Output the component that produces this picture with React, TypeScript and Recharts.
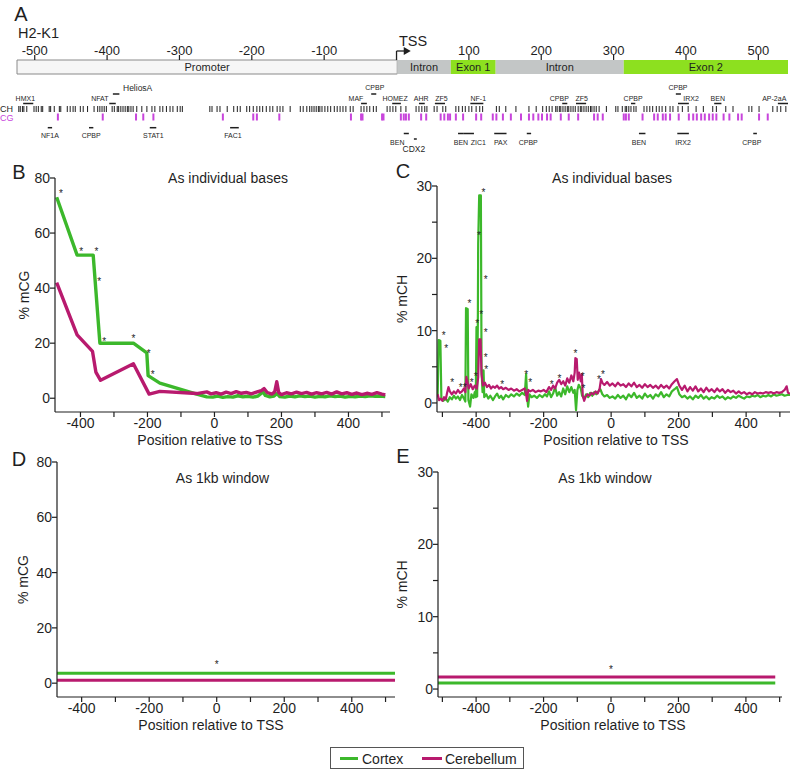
import React from 'react';
import {
  ComposedChart,
  ScatterChart,
  Scatter,
  Line,
  XAxis,
  YAxis,
  ReferenceArea,
  ReferenceLine,
  ReferenceDot,
} from 'recharts';

const FONT = '"Liberation Sans", Arial, Helvetica, sans-serif';
const INK = '#1f1f1f';
const GREEN = '#3cb82b';
const MAGENTA = '#b81a6e';
const CG_PINK = '#c845dc';

// ---------------- Panel A data ----------------
const geneAxisTicks = [-500, -400, -300, -200, -100, 100, 200, 300, 400, 500];
const geneRegions = [
  { name: 'Promoter', start: -524.5, end: 1, kind: 'promoter' },
  { name: 'Intron', start: 1, end: 75, kind: 'intron' },
  { name: 'Exon 1', start: 75, end: 137, kind: 'exon' },
  { name: 'Intron', start: 137, end: 314, kind: 'intron' },
  { name: 'Exon 2', start: 314, end: 541, kind: 'exon' },
];
const chSites = [
  -522, -520, -517, -515, -511, -501, -498, -495, -491, -489, -480, -478, -473, -466, -464, -455, -451, -447,
  -444, -437, -433, -427, -418, -413, -410, -407, -404, -401, -393, -390, -386, -384, -381, -378, -375, -372,
  -370, -367, -364, -359, -352, -345, -338, -334, -327, -323, -318, -313, -309, -303, -299, -296, -258, -255,
  -248, -244, -234, -225, -220, -216, -207, -203, -198, -193, -189, -185, -180, -175, -171, -165, -161, -157,
  -147, -133, -129, -124, -120, -117, -114, -111, -108, -106, -103, -99, -95, -91, -86, -82, -78, -74, -70,
  -64, -60, -49, -45, -41, -37, -32, -28, -13, -9, -5, -1, 6, 13, 27, 31, 35, 39, 42, 52, 56, 64, 68, 82, 86,
  91, 95, 100, 104, 110, 115, 119, 138, 142, 151, 165, 183, 193, 202, 207, 211, 215, 220, 222, 225, 227, 230,
  233, 236, 238, 241, 244, 247, 251, 254, 256, 259, 262, 265, 268, 270, 273, 276, 280, 290, 303, 306, 312,
  316, 318, 321, 324, 328, 331, 342, 346, 350, 354, 359, 363, 367, 372, 378, 382, 389, 395, 403, 414, 424,
  437, 442, 455, 465, 487, 491, 501, 520, 526, 531, 538,
];
const cgSites = [
  -468, -406, -360, -350, -336, -240, -198, -193, -162, -63, -49, -47, -20, -18, 6, 10, 13, 17, 34, 41, 61,
  66, 71, 74, 82, 92, 110, 117, 133, 138, 147, 158, 172, 183, 189, 196, 201, 208, 213, 227, 238, 251, 273,
  278, 285, 314, 317, 321, 340, 356, 361, 368, 372, 378, 390, 404, 410, 415, 421, 426, 432, 437, 442, 452,
  460, 472, 477, 501, 513,
];
const tfSitesAbove = [
  { name: 'HMX1', at: -513, start: -516, end: -502, tier: 'upper1' },
  { name: 'NFAT', at: -410, start: -397, end: -388, tier: 'upper1' },
  { name: 'HeliosA', at: -378, start: -392, end: -383, tier: 'upper2' },
  { name: 'MAF', at: -56, start: -49, end: -41, tier: 'upper1' },
  { name: 'CPBP', at: -30, start: -35, end: -28, tier: 'upper2' },
  { name: 'HOMEZ', at: -2, start: -6, end: 6, tier: 'upper1' },
  { name: 'AHR', at: 34, start: 31, end: 39, tier: 'upper1' },
  { name: 'ZF5', at: 62, start: 53, end: 67, tier: 'upper1' },
  { name: 'NF-1', at: 113, start: 102, end: 120, tier: 'upper1' },
  { name: 'CPBP', at: 225, start: 229, end: 236, tier: 'upper1' },
  { name: 'ZF5', at: 256, start: 248, end: 262, tier: 'upper1' },
  { name: 'CPBP', at: 327, start: 324, end: 330, tier: 'upper1' },
  { name: 'CPBP', at: 389, start: 386, end: 393, tier: 'upper2' },
  { name: 'IRX2', at: 407, start: 389, end: 404, tier: 'upper1' },
  { name: 'BEN', at: 444, start: 439, end: 449, tier: 'upper1' },
  { name: 'AP-2aA', at: 522, start: 527, end: 541, tier: 'upper1' },
];
const tfSitesBelow = [
  { name: 'NF1A', at: -479, start: -482, end: -476, tier: 'lower1' },
  { name: 'CPBP', at: -422, start: -425, end: -419, tier: 'lower1' },
  { name: 'STAT1', at: -336, start: -341, end: -332, tier: 'lower1' },
  { name: 'FAC1', at: -226, start: -230, end: -218, tier: 'lower1' },
  { name: 'BEN', at: 1, start: 10, end: 17, tier: 'lower2' },
  { name: 'CDX2', at: 24, start: 24, end: 28, tier: 'lower3' },
  { name: 'BEN', at: 89, start: 85, end: 93, tier: 'lower2' },
  { name: 'ZIC1', at: 113, start: 93, end: 107, tier: 'lower2' },
  { name: 'PAX', at: 144, start: 135, end: 152, tier: 'lower2' },
  { name: 'CPBP', at: 182, start: 180, end: 186, tier: 'lower2' },
  { name: 'BEN', at: 335, start: 335, end: 344, tier: 'lower2' },
  { name: 'IRX2', at: 396, start: 388, end: 404, tier: 'lower2' },
  { name: 'CPBP', at: 491, start: 493, end: 498, tier: 'lower2' },
];

// ---------------- Panel B: % mCG, individual bases ----------------
const cortexCG: [number, number][] = [
  [-471, 73], [-410, 52], [-362, 52], [-342, 20], [-242, 20], [-202, 16.5], [-198, 8.2], [-163, 5.5],
  [-53, 1.5], [-23, 0.5], [-5, 0.4], [10, 0.8], [25, 0.3], [40, 0.6], [55, 0.4], [70, 0.9], [85, 0.5],
  [100, 0.7], [115, 0.4], [130, 0.8], [145, 2.3], [152, 1.0], [165, 0.5], [178, 0.8], [187, 1.7], [195, 0.6],
  [210, 0.4], [225, 0.8], [240, 0.5], [255, 0.9], [270, 0.6], [285, 0.8], [300, 0.4], [315, 0.7], [330, 0.5],
  [345, 0.9], [360, 0.6], [375, 0.8], [390, 0.4], [405, 0.7], [420, 0.5], [435, 0.8], [450, 0.6], [465, 0.9],
  [480, 0.7], [495, 0.8], [510, 0.6],
];
const cerebellumCG: [number, number][] = [
  [-471, 42], [-410, 23], [-364, 17], [-354, 9.5], [-340, 6.5], [-242, 12.5], [-195, 1.5], [-163, 2.5],
  [-53, 1.7], [-23, 2.3], [-10, 1.6], [5, 2.0], [20, 1.5], [35, 2.2], [50, 1.7], [65, 2.4], [80, 1.8],
  [95, 2.1], [110, 1.6], [125, 2.2], [140, 2.8], [148, 3.5], [158, 2.0], [172, 1.5], [180, 2.4], [186, 6.0],
  [192, 2.0], [200, 1.3], [215, 2.0], [230, 1.6], [245, 2.2], [260, 1.7], [275, 2.1], [290, 1.5], [305, 2.0],
  [320, 1.6], [335, 2.1], [350, 1.5], [365, 2.3], [380, 1.6], [395, 2.0], [410, 1.4], [425, 1.9], [440, 1.3],
  [455, 1.8], [470, 1.4], [485, 2.0], [500, 1.5], [510, 1.2],
];
const starsCG: [number, number][] = [
  [-458, 75], [-398, 54.2], [-352, 54.2], [-344, 43.3], [-329, 21.5], [-242, 22.5], [-196, 17], [-184, 9.5],
];

// ---------------- Panel C: % mCH, individual bases ----------------
const cortexCH: [number, number][] = [
  [-514, 1.0], [-511, 8.7], [-506, 8.6], [-503, 0.6], [-497, 0.3], [-490, 0.6], [-484, 0.2], [-478, 0.8],
  [-472, 0.5], [-466, 1.0], [-460, 0.6], [-454, 0.9], [-448, 0.4], [-442, 1.1], [-436, 0.6], [-432, 0.2],
  [-430, 13.1], [-425, 13.0], [-423, 0.4], [-418, -0.5], [-414, 1.2], [-408, 0.7], [-404, 1.5], [-401, 0.8],
  [-399, 10.5], [-397, 0.9], [-395, 11.0], [-394, 22], [-391, 28.7], [-386, 28.7], [-384, 4.5], [-381, 1.5],
  [-378, 4.5], [-376, 0.8], [-370, 1.2], [-364, 0.6], [-358, 1.0], [-350, 0.4], [-344, 0.9], [-338, 1.3],
  [-332, 0.7], [-326, 1.0], [-320, 0.5], [-312, 1.1], [-304, 0.8], [-296, 1.2], [-288, 0.9], [-280, 1.3],
  [-272, 1.0], [-264, 1.4], [-256, 1.1], [-252, 4.0], [-249, 1.0], [-246, -0.5], [-242, 1.2], [-236, 0.8],
  [-228, 1.0], [-220, 0.7], [-212, 1.1], [-204, 0.8], [-196, 1.2], [-190, 0.9], [-184, 1.6], [-178, 0.8],
  [-172, 1.3], [-166, 2.2], [-160, 1.0], [-154, 1.5], [-148, 0.9], [-142, 2.0], [-136, 1.2], [-130, 2.3],
  [-124, 1.5], [-118, 2.2], [-112, 1.4], [-108, 1.8], [-104, -1.0], [-100, 1.8], [-96, 2.5], [-90, 2.0],
  [-86, 1.0], [-80, 0.6], [-74, 1.2], [-68, 0.8], [-62, 1.4], [-56, 1.0], [-50, 1.5], [-44, 1.2], [-38, 1.6],
  [-32, 1.9], [-26, 1.2], [-20, 0.9], [-12, 1.1], [-4, 0.7], [4, 0.9], [12, 0.6], [20, 1.1], [28, 0.7],
  [36, 1.0], [44, 0.5], [52, 1.2], [60, 0.8], [68, 1.4], [76, 0.7], [84, 1.0], [92, 0.6], [100, 1.3],
  [108, 0.8], [116, 1.1], [124, 0.6], [132, 1.2], [140, 0.9], [148, 1.5], [156, 0.8], [164, 1.2], [172, 0.9],
  [180, 1.6], [188, 1.9], [195, 2.2], [202, 1.2], [210, 0.8], [218, 1.0], [226, 0.6], [234, 0.9], [242, 0.5],
  [250, 1.0], [258, 0.7], [266, 1.1], [274, 0.6], [282, 0.9], [290, 0.5], [298, 0.8], [306, 0.6], [314, 1.0],
  [322, 0.7], [330, 0.9], [338, 0.5], [346, 0.8], [354, 0.6], [362, 0.9], [370, 0.7], [378, 1.0], [386, 0.8],
  [394, 0.6], [402, 0.9], [410, 0.8], [418, 1.0], [426, 0.9], [434, 1.1], [442, 0.8], [450, 1.0], [458, 0.9],
  [466, 1.1], [474, 0.9], [482, 1.2], [490, 1.0], [498, 1.1], [506, 1.2], [514, 1.0], [522, 1.1], [530, 1.1],
];
const cerebellumCH: [number, number][] = [
  [-514, 1.2], [-510, 0.4], [-505, 0.6], [-500, 0.3], [-495, 0.8], [-490, 0.5], [-486, 1.4], [-482, 2.2],
  [-478, 1.6], [-472, 1.2], [-466, 1.6], [-460, 1.3], [-454, 1.8], [-448, 1.4], [-442, 1.6], [-436, 2.0],
  [-432, 1.5], [-429, 3.6], [-426, 3.0], [-422, 2.0], [-416, 2.6], [-410, 1.9], [-404, 2.4], [-398, 2.0],
  [-394, 3.5], [-391, 8.8], [-387, 8.8], [-384, 4.0], [-380, 2.4], [-374, 2.8], [-368, 2.2], [-362, 2.5],
  [-356, 2.0], [-350, 2.3], [-344, 2.1], [-338, 2.4], [-332, 2.0], [-326, 2.2], [-320, 1.9], [-312, 2.1],
  [-304, 1.8], [-296, 2.0], [-288, 1.7], [-280, 1.9], [-272, 1.6], [-264, 1.8], [-256, 2.0], [-252, 1.2],
  [-249, 0.3], [-246, 1.8], [-240, 1.6], [-232, 1.8], [-224, 1.5], [-216, 1.7], [-208, 1.6], [-200, 1.8],
  [-192, 1.5], [-184, 2.2], [-178, 1.8], [-172, 2.4], [-166, 2.0], [-160, 2.8], [-154, 3.2], [-148, 2.6],
  [-142, 3.0], [-136, 2.4], [-130, 3.4], [-124, 2.8], [-118, 3.8], [-112, 3.0], [-108, 4.2], [-106, 6.2],
  [-102, 6.1], [-99, 3.2], [-95, 4.2], [-90, 3.0], [-87, 4.0], [-84, 1.0], [-80, 0.3], [-76, 0.8], [-70, 1.2],
  [-64, 1.0], [-58, 1.4], [-52, 1.2], [-46, 1.6], [-40, 1.3], [-34, 2.0], [-30, 3.3], [-26, 2.8], [-20, 2.5],
  [-12, 2.9], [-4, 2.4], [4, 2.7], [12, 2.3], [20, 2.8], [28, 2.4], [36, 2.6], [44, 2.2], [52, 2.7], [60, 2.3],
  [68, 2.8], [76, 2.2], [84, 2.5], [92, 2.1], [100, 2.6], [108, 2.2], [116, 2.5], [124, 2.1], [132, 2.4],
  [140, 2.0], [148, 2.5], [156, 2.1], [164, 2.4], [172, 2.0], [180, 2.6], [188, 3.0], [195, 3.3], [202, 2.4],
  [210, 1.8], [218, 2.4], [226, 1.6], [234, 2.2], [242, 1.7], [250, 2.3], [258, 1.6], [266, 2.0], [274, 1.5],
  [282, 2.1], [290, 1.6], [298, 1.9], [306, 1.5], [314, 2.0], [322, 1.6], [330, 1.9], [338, 1.4], [346, 1.8],
  [354, 1.5], [362, 1.7], [370, 1.3], [378, 1.6], [386, 1.3], [394, 1.5], [402, 1.2], [410, 1.4], [418, 1.2],
  [426, 1.5], [434, 1.3], [442, 1.4], [450, 1.3], [458, 1.5], [466, 1.4], [474, 1.5], [482, 1.3], [490, 1.5],
  [498, 1.4], [506, 1.5], [514, 1.8], [520, 2.3], [524, 1.4], [530, 1.3],
];
const starsCH: [number, number][] = [
  [-496, 9.6], [-489, 7.9], [-471, 3.1], [-446, 2.5], [-434, 2.5], [-420, 14.0], [-413, 3.1], [-401, 4.0],
  [-392, 23.4], [-397, 11.3], [-385, 12.5], [-378, 29.4], [-372, 17.4], [-372, 10.0], [-372, 6.6], [-370, 4.9],
  [-323, 2.8], [-252, 4.2], [-240, 3.1], [-176, 2.9], [-153, 3.7], [-106, 7.2], [-84, 4.0], [-82, 2.3],
  [-36, 3.5], [-24, 4.3],
];

// ---------------- Panels D, E: 1 kb window ----------------
const windowCGRange = [-473, 528];
const windowCG = { cortex: 3.6, cerebellum: 1.1 };
const starsWindowCG: [number, number][] = [[0, 7.6]];
const windowCHRange = [-513, 487];
const windowCH = { cortex: 0.83, cerebellum: 1.66 };
const starsWindowCH: [number, number][] = [[0, 3.0]];

// ---------------- Axis ticks ----------------
const posTicksShort = [-400, -300, -200, -100, 0, 100, 200, 300, 400, 500];
const posTicksLong = [-500, -400, -300, -200, -100, 0, 100, 200, 300, 400, 500];
const mcgTicks = [0, 20, 40, 60, 80];
const mchTicks = [0, 5, 10, 15, 20, 25, 30];

const toPts = (arr: [number, number][]) => arr.map(([x, y]) => ({ x, y }));
const flat = (range: number[], v: number) => range.map((x) => ({ x, y: v }));
const fmtPos = (v: number) => (v % 200 === 0 ? String(v) : '');
const fmtMch = (v: number) => (v % 10 === 0 ? String(v) : '');

const TIER: Record<string, { seg: number; text: number }> = {
  upper2: { seg: 34, text: 27.5 },
  upper1: { seg: 43.5, text: 38.5 },
  lower1: { seg: 67.7, text: 75 },
  lower2: { seg: 73.5, text: 82.5 },
  lower3: { seg: 79, text: 88.5 },
};
const CH_ROW = 49;
const CG_ROW = 57;
const largeLabels = ['HeliosA', 'CDX2'];

const regionFill: Record<string, string> = { promoter: '#f6f6f6', intron: '#c3c6c6', exon: '#8de01f' };

function Txt(props: { x: number; y: number; size: number; color?: string; anchor?: string; children: React.ReactNode }) {
  const { x, y, size, color = INK, anchor = 'middle', children } = props;
  const tx = anchor === 'middle' ? '-50%' : anchor === 'end' ? '-100%' : '0';
  return (
    <div
      style={{
        position: 'absolute',
        left: x,
        top: y,
        transform: `translate(${tx}, -50%)`,
        fontSize: size,
        lineHeight: 1,
        color,
        whiteSpace: 'nowrap',
      }}
    >
      {children}
    </div>
  );
}

function GeneMap() {
  const tfAll = [...tfSitesAbove, ...tfSitesBelow];
  const labelPts = tfAll.map((s) => ({ x: s.at, y: TIER[s.tier].text, name: s.name }));
  const chPts = chSites.map((x) => ({ x, y: CH_ROW }));
  const cgPts = cgSites.map((x) => ({ x, y: CG_ROW }));
  return (
    <ScatterChart width={796} height={160} margin={{ top: 30, right: 8, bottom: 0, left: 17 }}>
      <XAxis
        type="number"
        dataKey="x"
        orientation="top"
        domain={[-524.5, 541]}
        ticks={geneAxisTicks}
        interval={0}
        height={30}
        axisLine={false}
        tickLine={{ stroke: INK, strokeWidth: 1.2 }}
        tickSize={5}
        tickMargin={0}
        tick={{ fontSize: 13, fill: INK }}
      />
      <YAxis type="number" dataKey="y" domain={[0, 100]} reversed hide width={0} />
      {geneRegions.map((r, i) => (
        <ReferenceArea
          key={'r' + i}
          x1={r.start}
          x2={r.end}
          y1={0}
          y2={14}
          fill={regionFill[r.kind]}
          fillOpacity={1}
          stroke={r.kind === 'promoter' ? '#8a8a8a' : 'none'}
          strokeWidth={1}
          ifOverflow="visible"
          label={{ value: r.name, position: 'center', fontSize: 11, fill: INK }}
        />
      ))}
      <ReferenceLine segment={[{ x: 0, y: 0 }, { x: 0, y: -9 }]} stroke={INK} strokeWidth={1.3} ifOverflow="visible" />
      <ReferenceLine segment={[{ x: 0, y: -9 }, { x: 11, y: -9 }]} stroke={INK} strokeWidth={1.3} ifOverflow="visible" />
      <ReferenceDot
        x={10}
        y={-9}
        r={4}
        ifOverflow="visible"
        shape={(p: any) => (
          <path d={`M${p.cx},${p.cy - 4}L${p.cx + 7},${p.cy}L${p.cx},${p.cy + 4}Z`} fill={INK} />
        )}
      />
      {tfAll.map((s, i) => (
        <ReferenceLine
          key={'tf' + i}
          segment={[{ x: s.start, y: TIER[s.tier].seg }, { x: s.end, y: TIER[s.tier].seg }]}
          stroke={INK}
          strokeWidth={1.5}
          ifOverflow="visible"
        />
      ))}
      <Scatter
        data={chPts}
        isAnimationActive={false}
        shape={(p: any) => (
          <line x1={p.cx} x2={p.cx} y1={p.cy - 3} y2={p.cy + 3} stroke={INK} strokeWidth={1} />
        )}
      />
      <Scatter
        data={cgPts}
        isAnimationActive={false}
        shape={(p: any) => (
          <line x1={p.cx} x2={p.cx} y1={p.cy - 3.5} y2={p.cy + 3.5} stroke={CG_PINK} strokeWidth={2} />
        )}
      />
      <Scatter
        data={labelPts}
        isAnimationActive={false}
        shape={(p: any) => {
          const name = p.payload?.name ?? '';
          const big = largeLabels.includes(name);
          return (
            <text
              x={p.cx}
              y={p.cy}
              textAnchor={name === 'HeliosA' ? 'start' : 'middle'}
              dominantBaseline="central"
              fontSize={big ? 8.5 : 7}
              fill={INK}
            >
              {name}
            </text>
          );
        }}
      />
    </ScatterChart>
  );
}

const starShape = (p: any) => (
  <text x={p.cx} y={p.cy + 5.7} textAnchor="middle" fontSize={10} fill={INK}>
    *
  </text>
);

type Series = { data: { x: number; y: number }[]; color: string; width: number };

function MethPanel(props: {
  left: number;
  top: number;
  width: number;
  height: number;
  margin: { top: number; right: number; bottom: number; left: number };
  yAxisWidth: number;
  xDomain: number[];
  yDomain: number[];
  xTicks: number[];
  yTicks: number[];
  yFmt?: (v: number) => string;
  series: Series[];
  stars: { x: number; y: number }[];
  yTitle: string;
  yTitleX: number;
  xTitleX: number;
  xTitleY: number;
}) {
  const p = props;
  return (
    <div style={{ position: 'absolute', left: p.left, top: p.top }}>
      <ComposedChart width={p.width} height={p.height} margin={p.margin}>
        <XAxis
          type="number"
          dataKey="x"
          domain={p.xDomain}
          allowDataOverflow
          ticks={p.xTicks}
          interval={0}
          tickFormatter={fmtPos}
          tickSize={5}
          tickMargin={1}
          height={38}
          axisLine={{ stroke: INK, strokeWidth: 1.2 }}
          tickLine={{ stroke: INK, strokeWidth: 1.2 }}
          tick={{ fontSize: 14, fill: INK }}
          label={() => (
            <text x={p.xTitleX} y={p.xTitleY} textAnchor="middle" fontSize={14} fill={INK}>
              Position relative to TSS
            </text>
          )}
        />
        <YAxis
          type="number"
          domain={p.yDomain}
          allowDataOverflow
          ticks={p.yTicks}
          interval={0}
          tickFormatter={p.yFmt}
          tickSize={5}
          tickMargin={0}
          width={p.yAxisWidth}
          axisLine={{ stroke: INK, strokeWidth: 1.2 }}
          tickLine={{ stroke: INK, strokeWidth: 1.2 }}
          tick={{ fontSize: 14, fill: INK }}
          label={(lp: any) => {
            const vb = lp?.viewBox || {};
            const cy = (vb.y ?? p.margin.top) + (vb.height ?? 230) / 2;
            return (
              <text
                x={p.yTitleX}
                y={cy}
                transform={`rotate(-90 ${p.yTitleX} ${cy})`}
                textAnchor="middle"
                dominantBaseline="central"
                fontSize={14}
                fill={INK}
              >
                {p.yTitle}
              </text>
            );
          }}
        />
        {p.series.map((s, i) => (
          <Line
            key={i}
            data={s.data}
            dataKey="y"
            type="linear"
            stroke={s.color}
            strokeWidth={s.width}
            strokeLinejoin="round"
            dot={false}
            activeDot={false}
            isAnimationActive={false}
          />
        ))}
        <Scatter data={p.stars} dataKey="y" shape={starShape} isAnimationActive={false} />
      </ComposedChart>
    </div>
  );
}

export default function App() {
  return (
    <div
      style={{
        position: 'absolute',
        left: 0,
        top: 0,
        width: 796,
        height: 770,
        background: '#fff',
        fontFamily: FONT,
        color: INK,
        overflow: 'hidden',
      }}
    >
      <div style={{ position: 'absolute', left: 0, top: 0 }}>
        <GeneMap />
      </div>
      <Txt x={21} y={14} size={20}>A</Txt>
      <Txt x={18} y={33} size={14.5} anchor="start">H2-K1</Txt>
      <Txt x={399} y={41} size={14.5} anchor="start">TSS</Txt>
      <Txt x={0} y={109} size={9} anchor="start">CH</Txt>
      <Txt x={0} y={117.5} size={9} anchor="start" color={CG_PINK}>CG</Txt>

      <MethPanel
        left={0}
        top={160}
        width={398}
        height={290}
        margin={{ top: 18, right: 8, bottom: 0, left: 0 }}
        yAxisWidth={55}
        xDomain={[-476, 524]}
        yDomain={[-5, 80]}
        xTicks={posTicksShort}
        yTicks={mcgTicks}
        series={[
          { data: toPts(cortexCG), color: GREEN, width: 3.4 },
          { data: toPts(cerebellumCG), color: MAGENTA, width: 3.4 },
        ]}
        stars={toPts(starsCG)}
        yTitle="% mCG"
        yTitleX={23.5}
        xTitleX={210}
        xTitleY={284.5}
      />
      <MethPanel
        left={392}
        top={160}
        width={404}
        height={290}
        margin={{ top: 26, right: 6, bottom: 0, left: 0 }}
        yAxisWidth={45}
        xDomain={[-516, 530]}
        yDomain={[-1.25, 30]}
        xTicks={posTicksLong}
        yTicks={mchTicks}
        yFmt={fmtMch}
        series={[
          { data: toPts(cortexCH), color: GREEN, width: 2.2 },
          { data: toPts(cerebellumCH), color: MAGENTA, width: 2.2 },
        ]}
        stars={toPts(starsCH)}
        yTitle="% mCH"
        yTitleX={10}
        xTitleX={224}
        xTitleY={284.5}
      />
      <MethPanel
        left={0}
        top={450}
        width={398}
        height={285}
        margin={{ top: 12, right: 3, bottom: 0, left: 0 }}
        yAxisWidth={57}
        xDomain={[-473, 528]}
        yDomain={[-5, 80]}
        xTicks={posTicksShort}
        yTicks={mcgTicks}
        series={[
          { data: flat(windowCGRange, windowCG.cortex), color: GREEN, width: 3 },
          { data: flat(windowCGRange, windowCG.cerebellum), color: MAGENTA, width: 3 },
        ]}
        stars={toPts(starsWindowCG)}
        yTitle="% mCG"
        yTitleX={23}
        xTitleX={211}
        xTitleY={280}
      />
      <MethPanel
        left={392}
        top={450}
        width={404}
        height={285}
        margin={{ top: 22, right: 14, bottom: 0, left: 0 }}
        yAxisWidth={46}
        xDomain={[-513, 507]}
        yDomain={[-1.1, 30]}
        xTicks={posTicksLong}
        yTicks={mchTicks}
        yFmt={fmtMch}
        series={[
          { data: flat(windowCHRange, windowCH.cortex), color: GREEN, width: 3 },
          { data: flat(windowCHRange, windowCH.cerebellum), color: MAGENTA, width: 3 },
        ]}
        stars={toPts(starsWindowCH)}
        yTitle="% mCH"
        yTitleX={10}
        xTitleX={221}
        xTitleY={280}
      />

      <Txt x={19} y={172} size={20}>B</Txt>
      <Txt x={403} y={171} size={20}>C</Txt>
      <Txt x={19} y={459} size={20}>D</Txt>
      <Txt x={403} y={456} size={20}>E</Txt>
      <Txt x={228} y={178} size={14}>As individual bases</Txt>
      <Txt x={612} y={178} size={14}>As individual bases</Txt>
      <Txt x={222.5} y={478} size={14}>As 1kb window</Txt>
      <Txt x={605} y={478} size={14}>As 1kb window</Txt>

      <div
        style={{
          position: 'absolute',
          left: 330,
          top: 747,
          width: 194,
          height: 22,
          boxSizing: 'border-box',
          border: '1px solid #555',
          background: '#fff',
        }}
      >
        <div style={{ position: 'absolute', left: 9, top: 9, width: 18, height: 3, background: GREEN }} />
        <Txt x={31} y={10.5} size={14} anchor="start">Cortex</Txt>
        <div style={{ position: 'absolute', left: 91, top: 9, width: 20, height: 3, background: MAGENTA }} />
        <Txt x={114} y={10.5} size={14} anchor="start">Cerebellum</Txt>
      </div>
    </div>
  );
}
